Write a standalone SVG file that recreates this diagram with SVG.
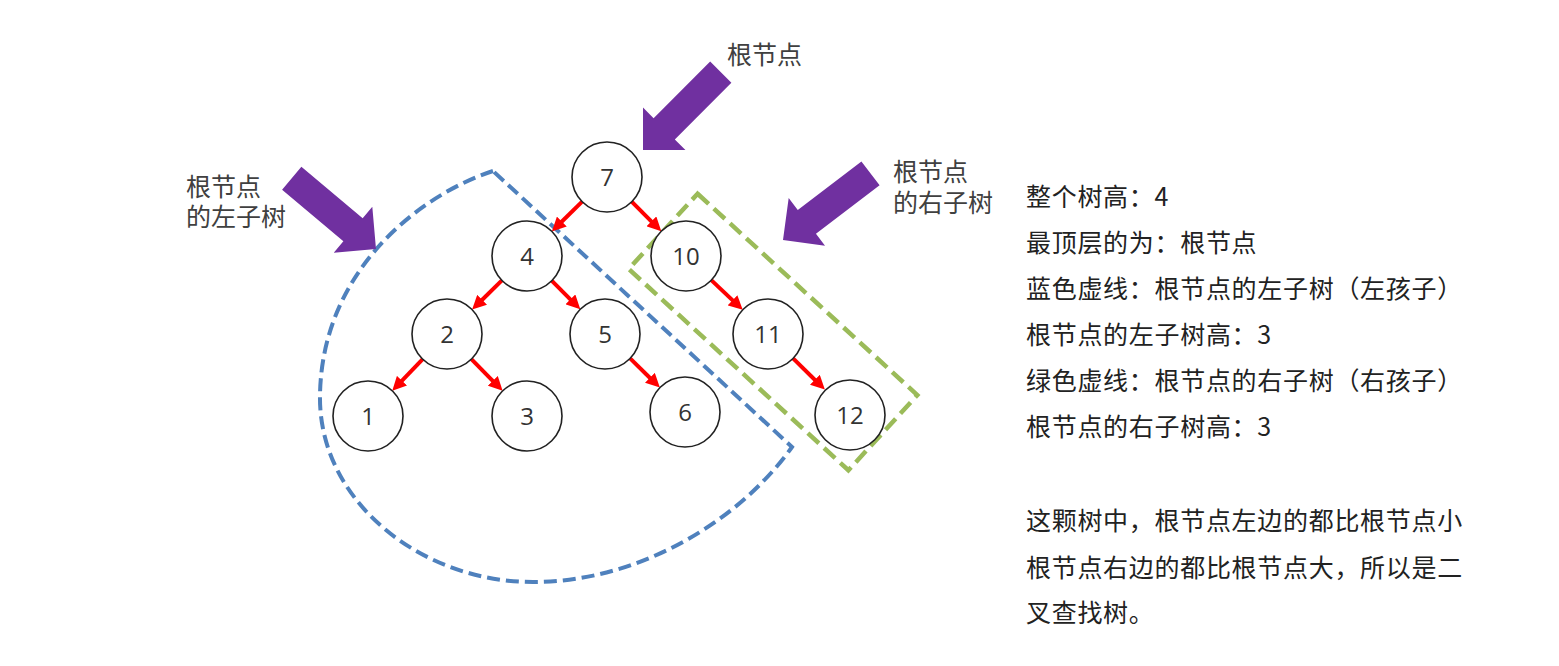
<svg xmlns="http://www.w3.org/2000/svg" width="1559" height="666" viewBox="0 0 1559 666">
<style>
.node circle{fill:#fff;stroke:#222;stroke-width:1.6}
.node text{font-family:"Open Sans","Noto Sans",sans-serif;font-size:24px;fill:#333;text-anchor:middle}
.edge{stroke:#ff0000;stroke-width:4;fill:none;marker-end:url(#ah)}
.cjk{font-family:"Noto Sans CJK SC","Noto Sans",sans-serif;font-size:25px;letter-spacing:0.7px;fill:#222}
.lbl{font-family:"Noto Sans CJK SC","Noto Sans",sans-serif;font-size:25px;fill:#404040}
.big{fill:#7030a0}
</style>
<defs>
<marker id="ah" viewBox="0 0 14 14" refX="2" refY="7" markerWidth="14" markerHeight="14" markerUnits="userSpaceOnUse" orient="auto">
<path d="M0,0 L14,7 L0,14 z" fill="#ff0000"/>
</marker>
<polygon id="bigArrow" points="0,0 -30,-30 -30,-15 -110,-15 -110,15 -30,15 -30,30"/>
</defs>
<rect width="1559" height="666" fill="#fff"/>

<g id="left-subtree-outline">
<path d="M493,171 C420,195 322,270 320,395 C318,500 420,582 533,582 C640,582 740,520 792,447 Z" fill="none" stroke="#4f81bd" stroke-width="4" stroke-dasharray="13 6"/>
</g>
<g id="right-subtree-outline">
<rect x="-149" y="-51" width="298" height="102" transform="translate(773,332) rotate(42.5)" fill="none" stroke="#9bbb59" stroke-width="4.5" stroke-dasharray="15 7"/>
</g>

<g id="connectors">
<line class="edge" x1="582.1" y1="201.6" x2="560.4" y2="223.0"/>
<line class="edge" x1="631.7" y1="201.7" x2="652.8" y2="222.8"/>
<line class="edge" x1="501.9" y1="280.4" x2="480.7" y2="301.2"/>
<line class="edge" x1="551.7" y1="280.7" x2="571.8" y2="300.8"/>
<line class="edge" x1="422.7" y1="359.2" x2="400.6" y2="382.2"/>
<line class="edge" x1="471.4" y1="359.1" x2="494.2" y2="382.3"/>
<line class="edge" x1="630.1" y1="358.4" x2="651.3" y2="379.2"/>
<line class="edge" x1="711.3" y1="280.1" x2="734.0" y2="301.6"/>
<line class="edge" x1="793.1" y1="358.4" x2="816.3" y2="381.2"/>
</g>

<g id="node-7" class="node"><circle cx="607" cy="177" r="35"/><text x="607" y="185.5">7</text></g>
<g id="node-4" class="node"><circle cx="527" cy="256" r="35"/><text x="527" y="264.5">4</text></g>
<g id="node-10" class="node"><circle cx="686" cy="256" r="35"/><text x="686" y="264.5">10</text></g>
<g id="node-2" class="node"><circle cx="447" cy="334" r="35"/><text x="447" y="342.5">2</text></g>
<g id="node-5" class="node"><circle cx="605" cy="334" r="35"/><text x="605" y="342.5">5</text></g>
<g id="node-11" class="node"><circle cx="768" cy="334" r="35"/><text x="768" y="342.5">11</text></g>
<g id="node-1" class="node"><circle cx="368" cy="416" r="35"/><text x="368" y="424.5">1</text></g>
<g id="node-3" class="node"><circle cx="527" cy="416" r="35"/><text x="527" y="424.5">3</text></g>
<g id="node-6" class="node"><circle cx="685" cy="412" r="35"/><text x="685" y="420.5">6</text></g>
<g id="node-12" class="node"><circle cx="850" cy="415" r="35"/><text x="850" y="423.5">12</text></g>

<g id="arrow-root">
<use href="#bigArrow" class="big" transform="translate(643,150) rotate(135)"/>
<text class="lbl" x="727" y="64">根节点</text>
</g>
<g id="arrow-left">
<use href="#bigArrow" class="big" transform="translate(376,249) rotate(40)"/>
<text class="lbl" x="186" y="196">根节点<tspan x="186" dy="30">的左子树</tspan></text>
</g>
<g id="arrow-right">
<use href="#bigArrow" class="big" transform="translate(783,240) rotate(142.7)"/>
<text class="lbl" x="893" y="181">根节点<tspan x="893" dy="31">的右子树</tspan></text>
</g>

<g id="notes">
<text class="cjk" x="1026" y="206">整个树高：4</text>
<text class="cjk" x="1026" y="252">最顶层的为：根节点</text>
<text class="cjk" x="1026" y="298">蓝色虚线：根节点的左子树（左孩子）</text>
<text class="cjk" x="1026" y="344">根节点的左子树高：3</text>
<text class="cjk" x="1026" y="390">绿色虚线：根节点的右子树（右孩子）</text>
<text class="cjk" x="1026" y="436">根节点的右子树高：3</text>
<text class="cjk" x="1026" y="530">这颗树中，根节点左边的都比根节点小</text>
<text class="cjk" x="1026" y="577">根节点右边的都比根节点大，所以是二</text>
<text class="cjk" x="1026" y="622">叉查找树。</text>
</g>
</svg>
